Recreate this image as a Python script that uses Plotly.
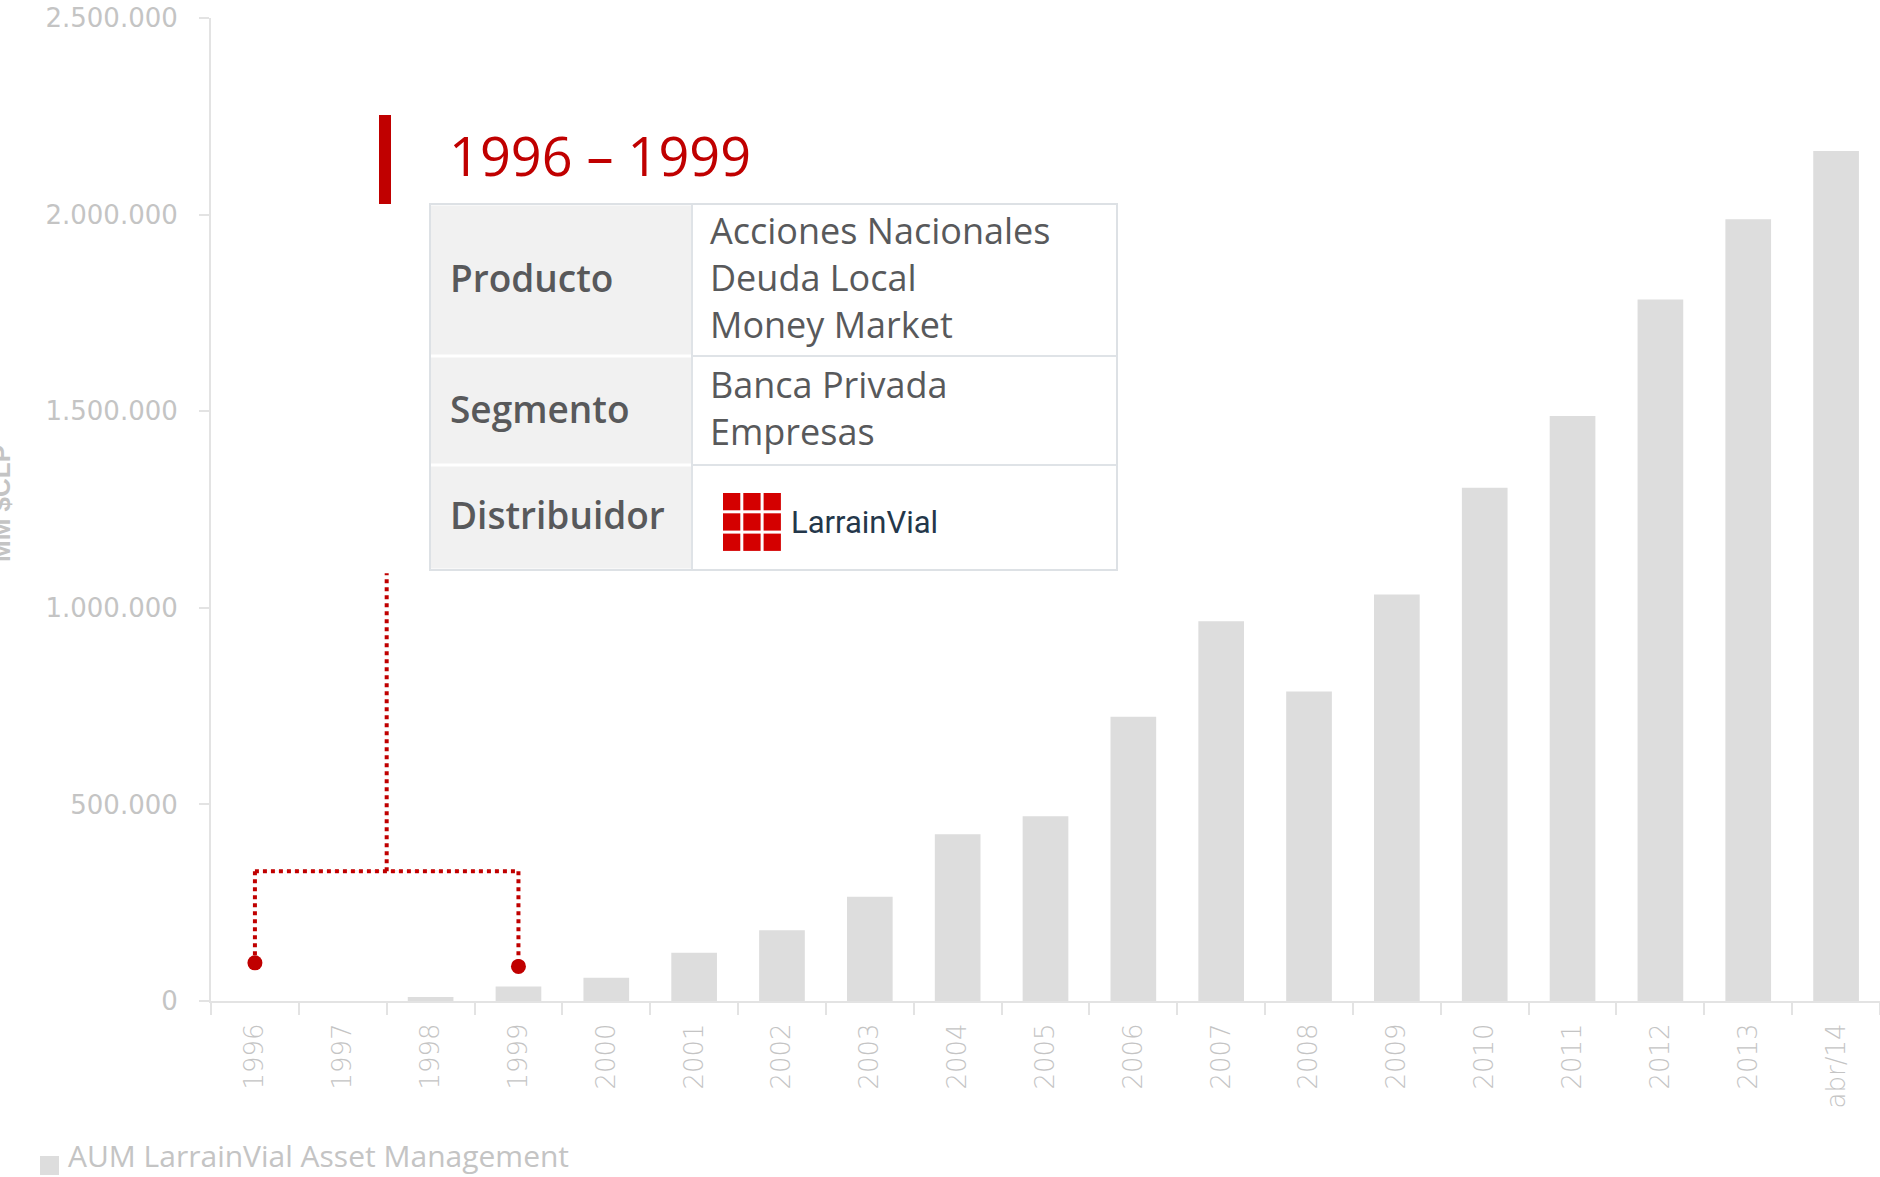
import plotly.graph_objects as go

# ---------------- data ----------------
categories = ['1996', '1997', '1998', '1999', '2000', '2001', '2002', '2003', '2004', '2005',
              '2006', '2007', '2008', '2009', '2010', '2011', '2012', '2013', 'abr/14']
aum_values = [0, 0, 10000, 37000, 59000, 123000, 180000, 265000, 424000, 470000,
              723000, 966000, 787000, 1034000, 1305000, 1488000, 1784000, 1988000, 2162000]
series_name = 'AUM LarrainVial Asset Management'
y_title = 'MM $CLP'
y_ticks = [0, 500000, 1000000, 1500000, 2000000, 2500000]

period_title = '1996 \u2013 1999'
table_labels = ['Producto', 'Segmento', 'Distribuidor']
table_values = [['Acciones Nacionales', 'Deuda Local', 'Money Market'],
                ['Banca Privada', 'Empresas'],
                []]
distributor_name = 'LarrainVial'
bracket_start, bracket_end = '1996', '1999'
bracket_dot_values = [97000, 88000]
bracket_level = 330000
bracket_stem_top = 1088000

# ---------------- geometry ----------------
FW, FH = 1880, 1177
L, T, R, B = 211, 18, 0, 176
PW, PH = FW - L - R, FH - T - B

def px(x):
    return (x - L) / PW

def py(y):
    return (T + PH - y) / PH

RED = '#c00000'
GREY_TXT = '#c4c4c4'
AX = '#e3e3e3'
BAR = '#dddddd'
DARK = '#58595b'

fig = go.Figure()
fig.add_trace(go.Bar(x=categories, y=aum_values, name=series_name,
                     marker=dict(color=BAR, line=dict(width=0)),
                     showlegend=False, hoverinfo='x+y'))

i0 = categories.index(bracket_start)
i1 = categories.index(bracket_end)
mid = (i0 + i1) / 2

fig.add_trace(go.Scatter(x=[bracket_start, bracket_end], y=bracket_dot_values, mode='markers',
                         marker=dict(color=RED, size=15), showlegend=False, hoverinfo='skip'))

shapes = []
dot_line = dict(color=RED, width=4, dash='dot')
shapes.append(dict(type='line', xref='x', yref='y', x0=mid, x1=mid, y0=bracket_level, y1=bracket_stem_top, line=dot_line))
shapes.append(dict(type='line', xref='x', yref='y', x0=i0, x1=i1, y0=bracket_level, y1=bracket_level, line=dot_line))
shapes.append(dict(type='line', xref='x', yref='y', x0=i0, x1=i0, y0=bracket_level, y1=bracket_dot_values[0], line=dot_line))
shapes.append(dict(type='line', xref='x', yref='y', x0=i1, x1=i1, y0=bracket_level, y1=bracket_dot_values[1], line=dot_line))

# red marker bar beside title
shapes.append(dict(type='rect', xref='paper', yref='paper', x0=px(379), x1=px(391), y0=py(204), y1=py(115),
                   fillcolor=RED, line=dict(width=0)))

# table
tx0, tx1, tx2 = 430, 691, 1117
rows_y = [204, 356, 465, 570]
for k in range(3):
    shapes.append(dict(type='rect', xref='paper', yref='paper', x0=px(tx0), x1=px(tx1),
                       y0=py(rows_y[k + 1] - 1.5), y1=py(rows_y[k] + 1.5),
                       fillcolor='#f1f1f1', line=dict(width=0)))
    shapes.append(dict(type='rect', xref='paper', yref='paper', x0=px(tx1 + 1), x1=px(tx2),
                       y0=py(rows_y[k + 1]), y1=py(rows_y[k]),
                       fillcolor='white', line=dict(color='#dfe3e7', width=2)))
shapes.append(dict(type='rect', xref='paper', yref='paper', x0=px(tx0), x1=px(tx2),
                   y0=py(rows_y[3]), y1=py(rows_y[0]), fillcolor='rgba(0,0,0,0)',
                   line=dict(color='#dde1e5', width=2)))

# logo grid 3x3
gx0, gy0, cell, gap = 723, 493, 17.3, 3
for r in range(3):
    for c in range(3):
        x0 = gx0 + c * (cell + gap)
        y0 = gy0 + r * (cell + gap)
        shapes.append(dict(type='rect', xref='paper', yref='paper', x0=px(x0), x1=px(x0 + cell),
                           y0=py(y0 + cell), y1=py(y0), fillcolor='#d40000', line=dict(width=0)))

# legend swatch
shapes.append(dict(type='rect', xref='paper', yref='paper', x0=px(40), x1=px(59), y0=py(1175), y1=py(1156),
                   fillcolor=BAR, line=dict(width=0)))

annotations = []
annotations.append(dict(text=period_title, xref='paper', yref='paper', x=px(447), y=py(155),
                        xanchor='left', yanchor='middle', showarrow=False,
                        font=dict(family='Open Sans', size=54, color=RED, weight=500)))
label_y = [277, 409, 514]
for lab, yy in zip(table_labels, label_y):
    annotations.append(dict(text=lab, xref='paper', yref='paper', x=px(448), y=py(yy),
                            xanchor='left', yanchor='middle', showarrow=False,
                            font=dict(family='Open Sans', size=37, color=DARK, weight=600)))
cell_centres = [277, 408]
for vals, yc in zip(table_values, cell_centres):
    annotations.append(dict(text='<br>'.join(vals), xref='paper', yref='paper', x=px(708), y=py(yc),
                            xanchor='left', yanchor='middle', align='left', showarrow=False,
                            font=dict(family='Open Sans', size=36, color=DARK)))
annotations.append(dict(text=distributor_name, xref='paper', yref='paper', x=px(789), y=py(522),
                        xanchor='left', yanchor='middle', showarrow=False,
                        font=dict(family='Liberation Sans Narrow, Roboto', size=31, color='#24374a')))
annotations.append(dict(text=series_name, xref='paper', yref='paper', x=px(66), y=py(1155),
                        xanchor='left', yanchor='middle', showarrow=False,
                        font=dict(family='Open Sans', size=30, color=GREY_TXT)))
annotations.append(dict(text=y_title, xref='paper', yref='paper', x=px(1), y=py(504),
                        xanchor='center', yanchor='middle', textangle=-90, showarrow=False,
                        font=dict(family='Liberation Sans', size=26, color=GREY_TXT, weight='bold')))

fig.update_layout(
    width=FW, height=FH,
    margin=dict(l=L, r=R, t=T, b=B, pad=0),
    paper_bgcolor='white', plot_bgcolor='white',
    separators=',.',
    bargap=0.48,
    shapes=shapes, annotations=annotations,
    showlegend=False,
    xaxis=dict(type='category', categoryorder='array', categoryarray=categories,
               range=[-0.5, len(categories) - 0.5],
               showgrid=False, showline=True, linecolor=AX, linewidth=2,
               ticks='outside', tickson='boundaries', ticklen=12, tickcolor=AX, tickwidth=1.5,
               tickangle=-90, ticklabelstandoff=10,
               tickfont=dict(family='DejaVu Sans', size=26, color=GREY_TXT, weight=300)),
    yaxis=dict(range=[0, 2500000], tickvals=y_ticks, tickformat=',d',
               showgrid=False, zeroline=False, showline=True, linecolor=AX, linewidth=2,
               ticks='outside', ticklen=10, tickcolor=AX, tickwidth=1.5, ticklabelstandoff=16,
               tickfont=dict(family='DejaVu Sans', size=26, color=GREY_TXT)),
)

fig.write_html('out.html', include_plotlyjs=True, full_html=True,
               config={'displayModeBar': False},
               post_script="document.body.style.margin='0';document.body.style.overflow='hidden';")
